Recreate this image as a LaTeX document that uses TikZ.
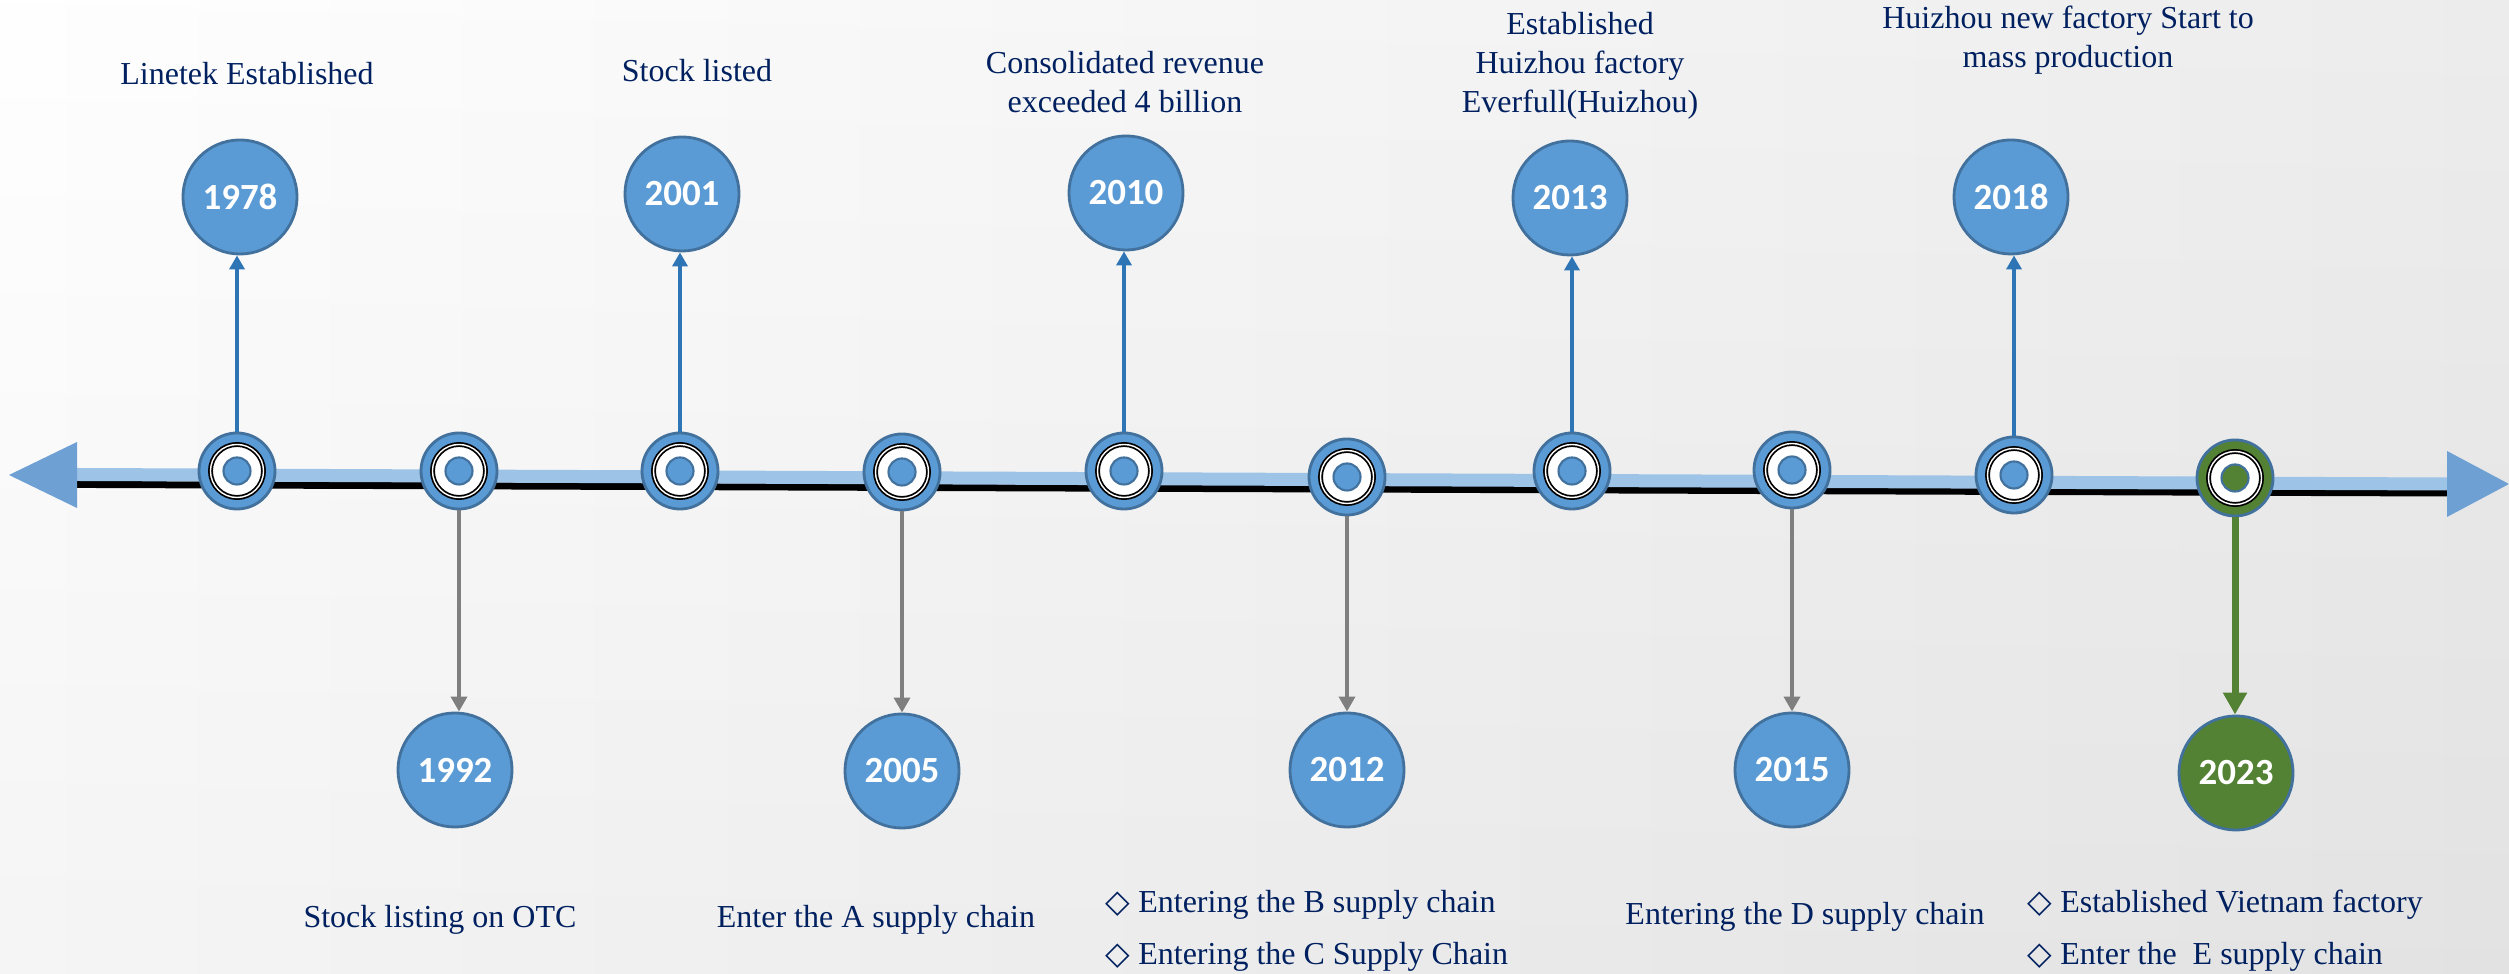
\documentclass[tikz,border=0pt]{standalone}
\usepackage{fontspec}
\setmainfont{Liberation Serif}
\newfontfamily\yearfont{Carlito}
\newfontfamily\symfont{DejaVu Sans}
\usetikzlibrary{arrows.meta}

\definecolor{tlblue}{RGB}{91,155,213}
\definecolor{tlborder}{RGB}{65,113,156}
\definecolor{tlgreen}{RGB}{84,130,53}
\definecolor{linkblue}{RGB}{46,117,182}
\definecolor{linkgrey}{RGB}{127,127,127}
\definecolor{bandblue}{RGB}{157,195,230}
\definecolor{arrowdark}{RGB}{110,160,212}
\definecolor{textnavy}{RGB}{0,32,96}
\definecolor{bgmid}{RGB}{242,242,242}
\definecolor{bgdark}{RGB}{236,236,236}

\newcommand{\dia}{{\symfont ◇}}

\begin{document}
\begin{tikzpicture}[x=0.01cm, y=-0.01cm,
    dotmark/.style={circle, inner sep=0pt, minimum size=0.76cm, fill=#1, draw=tlborder, line width=0.8pt,
      path picture={
        \draw[black, line width=0.5pt, double=white, double distance=0.4pt, fill=white]
          (path picture bounding box.center) circle (0.265cm);
        \draw[fill=#1, draw=tlborder, line width=0.6pt]
          (path picture bounding box.center) circle (0.135cm);}},
    dotmark/.default=tlblue,
    yearball/.style={circle, inner sep=0pt, minimum size=1.14cm, fill=#1, draw=tlborder, line width=0.8pt,
      text=white, font=\yearfont\bfseries\fontsize{10.5}{12}\selectfont},
    yearball/.default=tlblue,
    note/.style={text=textnavy, inner sep=0pt, align=center, font=\fontsize{9.1}{11}\selectfont},
    listnote/.style={text=textnavy, inner sep=0pt, align=left, anchor=west, font=\fontsize{9.1}{14.8}\selectfont},
    uplink/.style={draw=linkblue, line width=1.1pt, -{Triangle[width=0.15cm,length=0.14cm]}},
    downlink/.style={draw=linkgrey, line width=1pt, -{Triangle[width=0.16cm,length=0.15cm]}},
    greenlink/.style={draw=tlgreen, line width=2pt, -{Triangle[width=0.23cm,length=0.22cm]}}]

  % background
  \shade[left color=white, middle color=bgmid, right color=bgdark] (0,0) rectangle (2509,974);
  \shade[top color=white, bottom color=black, opacity=0.04] (0,0) rectangle (2509,974);
  \useasboundingbox (0,0) rectangle (2509,974);

  % time axis
  \draw[black, line width=0.07cm] (66,484.4) -- (2447,493);
  \fill[bandblue] (77,468) -- (2447,477.5) -- (2447,490.5) -- (77,481) -- cycle;
  \shade[top color=arrowdark, middle color=bandblue, bottom color=arrowdark] (9,475) -- (77,442) -- (77,508) -- cycle;
  \shade[top color=arrowdark, middle color=bandblue, bottom color=arrowdark] (2447,451) -- (2509,484) -- (2447,517) -- cycle;

  % marks on the axis
  \node[dotmark] (m1978) at (237,471) {};
  \node[dotmark] (m1992) at (459,471) {};
  \node[dotmark] (m2001) at (680,471) {};
  \node[dotmark] (m2005) at (902,472) {};
  \node[dotmark] (m2010) at (1124,471) {};
  \node[dotmark] (m2012) at (1347,477) {};
  \node[dotmark] (m2013) at (1572,471) {};
  \node[dotmark] (m2015) at (1792,470) {};
  \node[dotmark] (m2018) at (2014,475) {};
  \node[dotmark=tlgreen] (m2023) at (2235,478) {};

  % years above
  \node[yearball] (y1978) at (240,197) {1978};
  \node[yearball] (y2001) at (682,194) {2001};
  \node[yearball] (y2010) at (1126,193) {2010};
  \node[yearball] (y2013) at (1570,198) {2013};
  \node[yearball] (y2018) at (2011,197) {2018};
  % years below
  \node[yearball] (y1992) at (455,770) {1992};
  \node[yearball] (y2005) at (902,771) {2005};
  \node[yearball] (y2012) at (1347,770) {2012};
  \node[yearball] (y2015) at (1792,770) {2015};
  \node[yearball=tlgreen] (y2023) at (2236,773) {2023};

  \draw[uplink] (m1978.north) -- (m1978.north |- y1978.south);
  \draw[uplink] (m2001.north) -- (m2001.north |- y2001.south);
  \draw[uplink] (m2010.north) -- (m2010.north |- y2010.south);
  \draw[uplink] (m2013.north) -- (m2013.north |- y2013.south);
  \draw[uplink] (m2018.north) -- (m2018.north |- y2018.south);
  \draw[downlink] (m1992.south) -- (m1992.south |- y1992.north);
  \draw[downlink] (m2005.south) -- (m2005.south |- y2005.north);
  \draw[downlink] (m2012.south) -- (m2012.south |- y2012.north);
  \draw[downlink] (m2015.south) -- (m2015.south |- y2015.north);
  \draw[greenlink] (m2023.south) -- (m2023.south |- y2023.north);

  % texts
  \node[note, anchor=base] (t1978) at (247,85) {Linetek Established};
  \node[note, anchor=base] (t2001) at (697,82) {Stock listed};
  \node[note] (t2010) at (1125,82) {Consolidated revenue\\exceeded 4 billion};
  \node[note] (t2013) at (1580,66) {Established\\Huizhou factory\\Everfull(Huizhou)};
  \node[note] (t2018) at (2068,40) {Huizhou new factory Start to\\mass production};
  \node[note, anchor=base] (t1992) at (440,928) {Stock listing on OTC};
  \node[note, anchor=base] (t2005) at (876,928) {Enter the A supply chain};
  \node[listnote] (t2012) at (1105,931) {\dia{} Entering the B supply chain\\\dia{} Entering the C Supply Chain};
  \node[note, anchor=base] (t2015) at (1805,925) {Entering the D supply chain};
  \node[listnote] (t2023) at (2027,931) {\dia{} Established Vietnam factory\\\dia{} Enter the~ E supply chain};
\end{tikzpicture}
\end{document}
